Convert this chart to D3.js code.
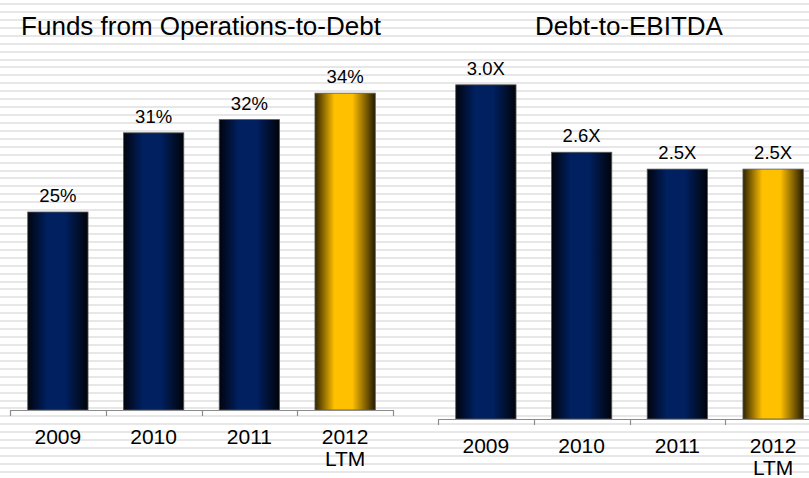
<!DOCTYPE html>
<html>
<head>
<meta charset="utf-8">
<script src="https://cdn.jsdelivr.net/npm/d3@7"></script>
<style>
  body { margin: 0; background: #fff; }
  svg { display: block; font-family: "Liberation Sans", Arial, sans-serif; }
</style>
</head>
<body>
<div id="plotholder"></div>
<script>
const YEARS = ['2009', '2010', '2011', '2012 LTM']
const FFO_TO_DEBT = [25, 31, 32, 34]
const DEBT_TO_EBITDA = [3.0, 2.6, 2.5, 2.5]
const HIGHLIGHT = '2012 LTM'

const WIDTH = 809
const HEIGHT = 478

const createsvg = (holderselector) => {
  /* svg with the striped slide background */
  const svg = d3.select(holderselector).append('svg')
    .attr('width', WIDTH)
    .attr('height', HEIGHT)
  svg.append('rect').attr('width', WIDTH).attr('height', HEIGHT).attr('fill', '#fff')
  svg.append('g').selectAll('rect')
    .data(d3.range(61))
    .enter()
    .append('rect')
    .attr('x', 0)
    .attr('y', i => Math.round(3 + i * 7.93))
    .attr('width', WIDTH)
    .attr('height', 2)
    .attr('fill', '#e7e7e7')
  return svg
}

const addgradients = (svg) => {
  /* cylinder-ish shading for the bars */
  const defs = svg.append('defs')
  const grads = {
    navy: ['#01040d', '#002060', '#002060', '#000309'],
    gold: ['#2e2300', '#ffc000', '#ffc000', '#241a00'],
  }
  Object.entries(grads).forEach(([id, cols]) => {
    const g = defs.append('linearGradient').attr('id', id)
      .attr('x1', 0).attr('x2', 1).attr('y1', 0).attr('y2', 0)
    ;[0, 0.32, 0.62, 1].forEach((o, i) => {
      g.append('stop').attr('offset', o).attr('stop-color', cols[i])
    })
  })
}

const plotpanel = (svg, opts) => {
  /* one titled bar panel
   * opts: values, format, x range, y domain/range, baseline, title position
   */
  const xscale = d3.scaleBand()
    .domain(YEARS)
    .range(opts.xrange)
  const yscale = d3.scaleLinear()
    .domain(opts.ydomain)
    .range(opts.yrange)
  const base = opts.baseline
  const barw = xscale.bandwidth() * 0.63
  const data = YEARS.map((y, i) => ({ year: y, value: opts.values[i] }))
  const g = svg.append('g')

  g.append('text')
    .attr('x', opts.titlex)
    .attr('y', 35)
    .attr('text-anchor', 'middle')
    .attr('font-size', 26)
    .attr('fill', '#000')
    .text(opts.title)

  g.selectAll('rect.bar')
    .data(data)
    .enter()
    .append('rect')
    .attr('class', 'bar')
    .attr('x', d => xscale(d.year) + (xscale.bandwidth() - barw) / 2)
    .attr('y', d => yscale(d.value))
    .attr('width', barw)
    .attr('height', d => base - yscale(d.value))
    .attr('fill', d => d.year === HIGHLIGHT ? 'url(#gold)' : 'url(#navy)')
    .attr('stroke', '#5a5a5a')
    .attr('stroke-width', 0.8)

  g.selectAll('text.val')
    .data(data)
    .enter()
    .append('text')
    .attr('class', 'val')
    .attr('x', d => xscale(d.year) + xscale.bandwidth() / 2)
    .attr('y', d => yscale(d.value) - 10)
    .attr('text-anchor', 'middle')
    .attr('font-size', 18.5)
    .attr('fill', '#000')
    .text(d => opts.format(d.value))

  // axis line with ticks on the band edges
  const edges = YEARS.map(y => xscale(y)).concat([opts.xrange[1]])
  g.append('line')
    .attr('x1', opts.xrange[0]).attr('x2', opts.xrange[1])
    .attr('y1', base + 0.5).attr('y2', base + 0.5)
    .attr('stroke', '#8c8c8c').attr('stroke-width', 1.2)
  g.selectAll('line.tick')
    .data(edges)
    .enter()
    .append('line')
    .attr('class', 'tick')
    .attr('x1', d => Math.round(d) + 0.5).attr('x2', d => Math.round(d) + 0.5)
    .attr('y1', base).attr('y2', base + 6)
    .attr('stroke', '#8c8c8c').attr('stroke-width', 1.2)

  const labels = g.selectAll('text.cat')
    .data(YEARS)
    .enter()
    .append('text')
    .attr('class', 'cat')
    .attr('text-anchor', 'middle')
    .attr('font-size', 21)
    .attr('fill', '#000')
  labels.each(function (d) {
    const cx = xscale(d) + xscale.bandwidth() / 2
    d.split(' ').forEach((part, i) => {
      d3.select(this).append('tspan')
        .attr('x', cx)
        .attr('y', base + 34 + i * 22)
        .text(part)
    })
  })
}

const svg = createsvg('#plotholder')
addgradients(svg)

plotpanel(svg, {
  title: 'Funds from Operations-to-Debt',
  titlex: 201,
  values: FFO_TO_DEBT,
  format: v => `${v}%`,
  xrange: [10, 393],
  ydomain: [10, 40],
  yrange: [410, 14],
  baseline: 410,
})

plotpanel(svg, {
  title: 'Debt-to-EBITDA',
  titlex: 629,
  values: DEBT_TO_EBITDA,
  format: v => `${v.toFixed(1)}X`,
  xrange: [438, 821],
  ydomain: [1, 3.5],
  yrange: [422, 0.5],
  baseline: 419,
})
</script>
</body>
</html>
